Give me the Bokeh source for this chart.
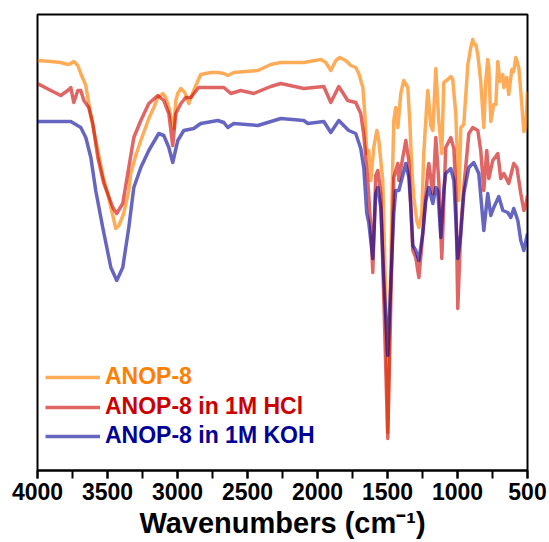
from bokeh.plotting import figure
from bokeh.models import Range1d, SingleIntervalTicker, Legend, LegendItem
from bokeh.embed import file_html
from bokeh.resources import INLINE

# ANOP-8 (pristine)
wn_orange = [4000, 3905, 3834, 3784, 3762, 3741, 3712, 3691, 3655, 3634, 3605, 3569, 3534, 3498,
             3462, 3441, 3419, 3384, 3348, 3334, 3298, 3262, 3205, 3169, 3141, 3105, 3084, 3062,
             3041, 3026, 3012, 2998, 2976, 2948, 2919, 2898, 2869, 2834, 2762, 2712, 2669, 2641,
             2598, 2512, 2426, 2334, 2262, 2098, 1976, 1941, 1905, 1869, 1841, 1798, 1762, 1727,
             1705, 1676, 1662, 1648, 1634, 1619, 1598, 1576, 1562, 1534, 1512, 1498, 1484, 1462,
             1455, 1441, 1426, 1405, 1384, 1355, 1341, 1326, 1312, 1291, 1276, 1255, 1241, 1219,
             1212, 1191, 1176, 1155, 1134, 1112, 1098, 1069, 1048, 1034, 1012, 998, 991, 976,
             955, 926, 905, 891, 884, 869, 855, 834, 812, 798, 784, 776, 762, 741, 726, 712, 698,
             676, 669, 648, 634, 612, 598, 584, 562, 548, 526, 512, 500]
t_orange = [410, 409, 408, 406, 407, 409, 405, 397, 385, 367, 345, 320, 295, 277,
            255, 242, 245, 257, 280, 297, 315, 330, 352, 363, 373, 377, 373, 363,
            350, 342, 370, 377, 382, 378, 367, 375, 385, 396, 398, 398, 397, 395,
            398, 399, 400, 406, 408, 408, 411, 408, 400, 410, 413, 410, 405, 403,
            397, 383, 357, 317, 320, 290, 323, 340, 330, 290, 170, 38, 150, 310,
            350, 363, 343, 377, 390, 383, 350, 300, 273, 250, 243, 257, 317, 367,
            380, 345, 340, 402, 350, 317, 388, 391, 394, 391, 356, 300, 270, 343,
            346, 406, 423, 431, 426, 426, 416, 389, 343, 389, 411, 403, 349, 366, 366, 409, 389,
            396, 383, 393, 376, 401, 399, 413, 403, 379, 339, 343, 379]

# ANOP-8 in 1M HCl
wn_red = [4000, 3905, 3834, 3784, 3762, 3741, 3712, 3691, 3669, 3634, 3605, 3569, 3526, 3462,
          3434, 3391, 3348, 3312, 3262, 3205, 3141, 3098, 3062, 3034, 3012, 2976, 2941, 2905,
          2848, 2762, 2669, 2619, 2548, 2455, 2334, 2262, 2098, 1955, 1905, 1848, 1784, 1727,
          1691, 1669, 1641, 1619, 1605, 1584, 1569, 1548, 1526, 1498, 1476, 1455, 1426, 1419,
          1391, 1369, 1348, 1334, 1319, 1298, 1276, 1255, 1241, 1212, 1205, 1176, 1155, 1134,
          1112, 1084, 1048, 1026, 1012, 998, 976, 955, 919, 891, 855, 834, 812, 791, 776, 748,
          712, 691, 669, 634, 598, 576, 548, 526, 512, 500]
t_red = [387, 380, 375, 380, 383, 368, 380, 380, 370, 363, 347, 313, 287, 263,
         257, 267, 303, 333, 350, 367, 375, 370, 357, 325, 357, 367, 373, 373,
         383, 383, 383, 377, 380, 377, 384, 387, 382, 384, 368, 384, 370, 368,
         357, 335, 290, 243, 198, 295, 300, 277, 170, 32, 170, 293, 307, 290,
         313, 330, 310, 263, 220, 213, 193, 225, 250, 300, 307, 277, 333, 290,
         212, 323, 333, 322, 280, 162, 243, 283, 337, 343, 340, 320, 280, 320, 292, 310,
         317, 292, 297, 287, 307, 303, 277, 260, 265, 275]

# ANOP-8 in 1M KOH
wn_blue = [4000, 3762, 3691, 3655, 3619, 3584, 3534, 3476, 3434, 3391, 3348, 3312, 3262, 3205,
           3134, 3098, 3062, 3034, 2998, 2955, 2884, 2834, 2712, 2669, 2641, 2598, 2426, 2262,
           2098, 2069, 1955, 1905, 1848, 1777, 1727, 1691, 1669, 1648, 1634, 1605, 1584, 1569,
           1548, 1526, 1498, 1476, 1455, 1441, 1419, 1391, 1369, 1348, 1334, 1319, 1298, 1276,
           1248, 1226, 1205, 1176, 1155, 1141, 1119, 1098, 1084, 1048, 1026, 998, 976, 955,
           919, 884, 848, 812, 784, 762, 741, 705, 676, 641, 619, 598, 569, 548, 526, 500]
t_blue = [349, 349, 343, 333, 313, 280, 243, 203, 190, 203, 243, 283, 303, 320,
          337, 335, 323, 308, 330, 340, 342, 347, 350, 348, 343, 347, 345, 352,
          350, 347, 349, 338, 350, 340, 337, 322, 302, 257, 248, 212, 277, 283,
          263, 190, 115, 190, 257, 280, 280, 295, 307, 293, 267, 225, 220, 210,
          237, 270, 283, 267, 283, 280, 233, 280, 297, 302, 290, 212, 237, 277,
          303, 308, 297, 240, 277, 255, 263, 274, 260, 258, 253, 262, 250, 230, 220, 237]

labels = ["ANOP-8", "ANOP-8 in 1M HCl", "ANOP-8 in 1M KOH"]
x_ticks_interval = 500

FONT = "Liberation Sans"

p = figure(width=549, height=542, output_backend="svg", toolbar_location=None,
           x_range=Range1d(4000, 500), y_range=Range1d(0, 456),
           min_border_left=37, min_border_right=22, min_border_top=14, min_border_bottom=72,
           background_fill_color="white", border_fill_color="white")

p.xgrid.visible = False
p.ygrid.visible = False
p.yaxis.visible = False
p.outline_line_color = "black"
p.outline_line_width = 2
p.outline_line_alpha = 1.0

ax = p.xaxis[0]
ax.ticker = SingleIntervalTicker(interval=x_ticks_interval, num_minor_ticks=2)
ax.axis_line_width = 2
ax.major_tick_line_width = 2
ax.minor_tick_line_width = 2
ax.major_tick_in = 0
ax.major_tick_out = 8
ax.minor_tick_in = 0
ax.minor_tick_out = 8
ax.major_label_text_font = FONT
ax.major_label_text_font_style = "bold"
ax.major_label_text_font_size = "23px"
ax.major_label_text_color = "black"
ax.major_label_standoff = 4
ax.axis_label = "Wavenumbers (cm\u207b\u00b9)"
ax.axis_label_text_font = FONT
ax.axis_label_text_font_style = "bold"
ax.axis_label_text_font_size = "29px"
ax.axis_label_text_color = "black"
ax.axis_label_standoff = 4

colors = ["#FF8000", "#CC0000", "#000099"]
alphas = [0.65, 0.6, 0.6]
series = [(wn_orange, t_orange), (wn_red, t_red), (wn_blue, t_blue)]
renderers = []
for (xs, ys), c, a in zip(series, colors, alphas):
    r = p.line(xs, ys, line_color=c, line_alpha=a, line_width=3.5, line_join="round")
    renderers.append(r)

legend_y = [80, 50, 21]
for r, lab, c, ly in zip(renderers, labels, colors, legend_y):
    lg = Legend(items=[LegendItem(label=lab, renderers=[r])], location=(8, ly),
                glyph_width=55, glyph_height=24, label_height=24, label_standoff=5,
                padding=0, margin=0, spacing=0, border_line_color=None,
                background_fill_alpha=0, label_text_font=FONT,
                label_text_font_style="bold", label_text_font_size="23px",
                label_text_color=c)
    p.add_layout(lg)

open("out.html", "w").write(file_html(p, INLINE))
